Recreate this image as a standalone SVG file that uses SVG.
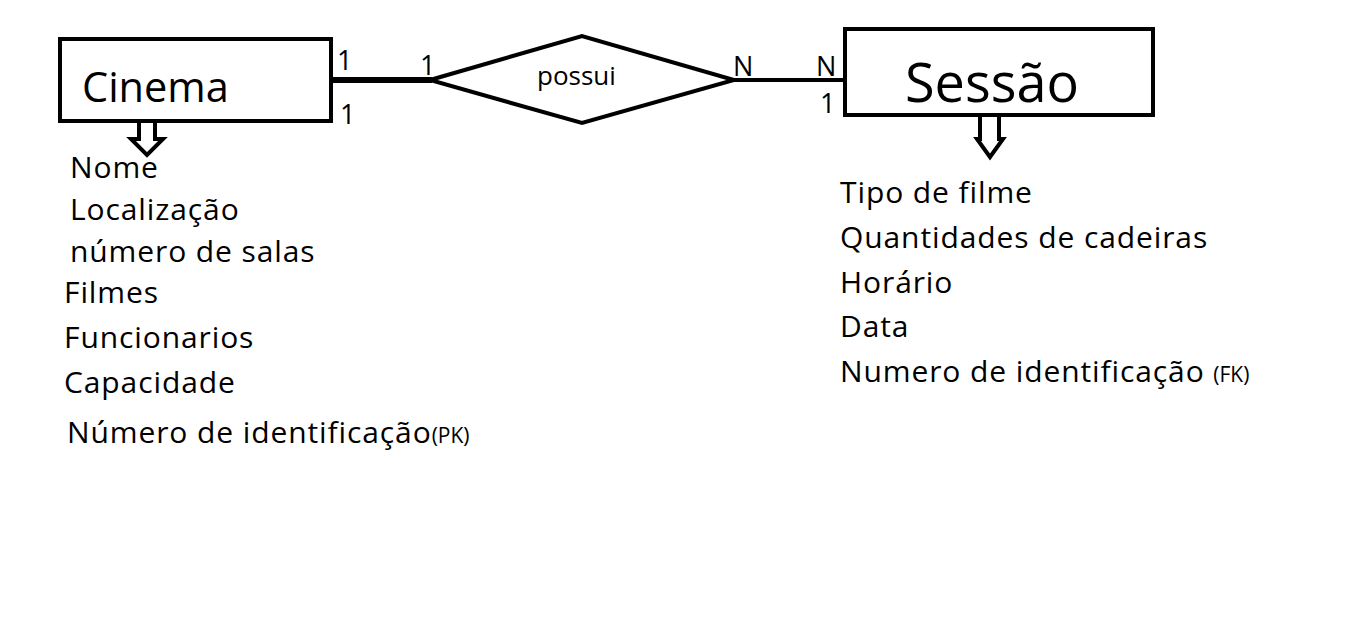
<svg xmlns="http://www.w3.org/2000/svg" width="1360" height="640" viewBox="0 0 1360 640">
<style>
text{font-family:"Open Sans","Noto Sans","DejaVu Sans",sans-serif;fill:#000}
.box{fill:#fff;stroke:#000;stroke-width:4}
.attr{font-size:30px;letter-spacing:0.9px}
.small{font-size:21px;letter-spacing:0}
.card{font-size:27px}
.arrow{fill:#fff;stroke:#000;stroke-width:4;stroke-linejoin:miter}
</style>
<rect width="1360" height="640" fill="#fff"/>
<g id="connectors">
<line x1="333" y1="80" x2="432" y2="80" stroke="#000" stroke-width="6"/>
<line x1="732" y1="80" x2="848" y2="80" stroke="#000" stroke-width="4"/>
<text class="card" x="337" y="70">1</text>
<text class="card" x="340" y="124">1</text>
<text class="card" x="420" y="75">1</text>
<text class="card" x="733" y="76">N</text>
<text class="card" x="816" y="76">N</text>
<text class="card" x="820" y="113">1</text>
</g>
<g id="cinema">
<rect class="box" x="60" y="39" width="271" height="82"/>
<text x="82" y="102" font-size="41.5">Cinema</text>
<path class="arrow" d="M139,123 V139 H131 L147,155 L163,139 H155 V123"/>
<text class="attr" x="70" y="178">Nome</text>
<text class="attr" x="70" y="220">Localização</text>
<text class="attr" x="70" y="262">número de salas</text>
<text class="attr" x="64" y="303">Filmes</text>
<text class="attr" x="64" y="348">Funcionarios</text>
<text class="attr" x="64" y="393">Capacidade</text>
<text class="attr" x="67" y="443">Número de identificação<tspan class="small">(PK)</tspan></text>
</g>
<g id="possui">
<polygon points="430,80 582,36 734,80 582,123" fill="#fff" stroke="#000" stroke-width="4"/>
<text x="537" y="85" font-size="26">possui</text>
</g>
<g id="sessao">
<rect class="box" x="845" y="29" width="308" height="86"/>
<text x="905" y="102" font-size="54">Sessão</text>
<path class="arrow" d="M980,117 V139 H977 L990,157 L1003,139 H999 V117"/>
<text class="attr" x="840" y="203">Tipo de filme</text>
<text class="attr" x="840" y="248">Quantidades de cadeiras</text>
<text class="attr" x="840" y="293">Horário</text>
<text class="attr" x="840" y="337">Data</text>
<text class="attr" x="840" y="382">Numero de identificação <tspan class="small">(FK)</tspan></text>
</g>
</svg>
